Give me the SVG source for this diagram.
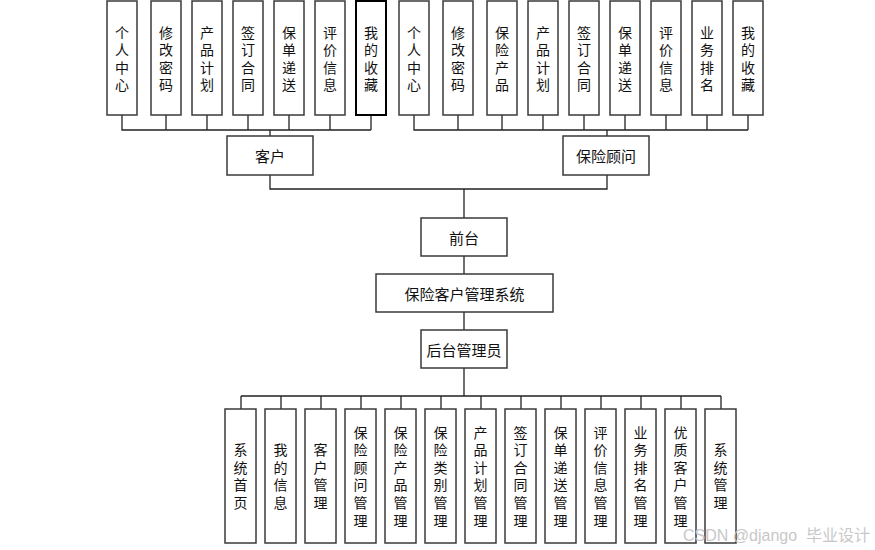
<svg xmlns="http://www.w3.org/2000/svg" width="875" height="550" viewBox="0 0 875 550">
<style>
.bx{fill:#fff;stroke:#3a3a3a;stroke-width:1.5}
.bk{fill:#fff;stroke:#000;stroke-width:2}
.t{font-family:"Noto Sans CJK SC","Liberation Sans",sans-serif;font-size:14px;fill:#111;text-anchor:middle;dominant-baseline:central}
.v{font-family:"Noto Sans CJK SC","Liberation Sans",sans-serif;font-size:14px;fill:#111;writing-mode:vertical-rl;text-anchor:middle;letter-spacing:3.6px}
.h{font-size:15px}
.ln{fill:none;stroke:#222;stroke-width:1.3}
.wm{font-family:"Liberation Sans","Noto Sans CJK SC",sans-serif;font-size:16px;fill:#c8c8c8}
</style>
<rect width="875" height="550" fill="#fff"/>
<g id="connectors" class="ln">
<path d="M122 115V130H371M166 115V130M207 115V130M248 115V130M289 115V130M330 115V130M371 115V130M270 130V136"/>
<path d="M414 115V130H748M458 115V130M502 115V130M543 115V130M584 115V130M625 115V130M666 115V130M707 115V130M748 115V130M607 130V136"/>
<path d="M270 175V189H607V175M464 189V218M464 256V274M464 312V330M464 368V396"/>
<path d="M241 396H721M241 396V409M281 396V409M321 396V409M361 396V409M401 396V409M441 396V409M481 396V409M521 396V409M561 396V409M601 396V409M641 396V409M681 396V409M721 396V409"/>
</g>
<g id="c1"><rect class="bx" x="107" y="1" width="30" height="114"/><text class="v" x="122" y="60.5">个人中心</text></g>
<g id="c2"><rect class="bx" x="151" y="1" width="30" height="114"/><text class="v" x="166" y="60.5">修改密码</text></g>
<g id="c3"><rect class="bx" x="192" y="1" width="30" height="114"/><text class="v" x="207" y="60.5">产品计划</text></g>
<g id="c4"><rect class="bx" x="233" y="1" width="30" height="114"/><text class="v" x="248" y="60.5">签订合同</text></g>
<g id="c5"><rect class="bx" x="274" y="1" width="30" height="114"/><text class="v" x="289" y="60.5">保单递送</text></g>
<g id="c6"><rect class="bx" x="315" y="1" width="30" height="114"/><text class="v" x="330" y="60.5">评价信息</text></g>
<g id="c7"><rect class="bk" x="356" y="1" width="30" height="114"/><text class="v" x="371" y="60.5">我的收藏</text></g>
<g id="a1"><rect class="bx" x="399" y="1" width="30" height="114"/><text class="v" x="414" y="60.5">个人中心</text></g>
<g id="a2"><rect class="bx" x="443" y="1" width="30" height="114"/><text class="v" x="458" y="60.5">修改密码</text></g>
<g id="a3"><rect class="bx" x="487" y="1" width="30" height="114"/><text class="v" x="502" y="60.5">保险产品</text></g>
<g id="a4"><rect class="bx" x="528" y="1" width="30" height="114"/><text class="v" x="543" y="60.5">产品计划</text></g>
<g id="a5"><rect class="bx" x="569" y="1" width="30" height="114"/><text class="v" x="584" y="60.5">签订合同</text></g>
<g id="a6"><rect class="bx" x="610" y="1" width="30" height="114"/><text class="v" x="625" y="60.5">保单递送</text></g>
<g id="a7"><rect class="bx" x="651" y="1" width="30" height="114"/><text class="v" x="666" y="60.5">评价信息</text></g>
<g id="a8"><rect class="bx" x="692" y="1" width="30" height="114"/><text class="v" x="707" y="60.5">业务排名</text></g>
<g id="a9"><rect class="bx" x="733" y="1" width="30" height="114"/><text class="v" x="748" y="60.5">我的收藏</text></g>
<g id="kehu"><rect class="bx" x="227" y="136" width="86" height="39"/><text class="t h" x="270" y="155.5">客户</text></g>
<g id="guwen"><rect class="bx" x="563" y="136" width="86" height="39"/><text class="t h" x="606" y="155.5">保险顾问</text></g>
<g id="qiantai"><rect class="bx" x="421" y="218" width="86" height="38"/><text class="t h" x="464" y="237">前台</text></g>
<g id="system"><rect class="bx" x="376" y="274" width="177" height="38"/><text class="t h" x="464.5" y="293">保险客户管理系统</text></g>
<g id="admin"><rect class="bx" x="421" y="330" width="86" height="38"/><text class="t h" x="464" y="349">后台管理员</text></g>
<g id="b1"><rect class="bx" x="225" y="409" width="31" height="134"/><text class="v" x="240.5" y="478">系统首页</text></g>
<g id="b2"><rect class="bx" x="265" y="409" width="31" height="134"/><text class="v" x="280.5" y="478">我的信息</text></g>
<g id="b3"><rect class="bx" x="305" y="409" width="31" height="134"/><text class="v" x="320.5" y="478">客户管理</text></g>
<g id="b4"><rect class="bx" x="345" y="409" width="31" height="134"/><text class="v" x="360.5" y="478">保险顾问管理</text></g>
<g id="b5"><rect class="bx" x="385" y="409" width="31" height="134"/><text class="v" x="400.5" y="478">保险产品管理</text></g>
<g id="b6"><rect class="bx" x="425" y="409" width="31" height="134"/><text class="v" x="440.5" y="478">保险类别管理</text></g>
<g id="b7"><rect class="bx" x="465" y="409" width="31" height="134"/><text class="v" x="480.5" y="478">产品计划管理</text></g>
<g id="b8"><rect class="bx" x="505" y="409" width="31" height="134"/><text class="v" x="520.5" y="478">签订合同管理</text></g>
<g id="b9"><rect class="bx" x="545" y="409" width="31" height="134"/><text class="v" x="560.5" y="478">保单递送管理</text></g>
<g id="b10"><rect class="bx" x="585" y="409" width="31" height="134"/><text class="v" x="600.5" y="478">评价信息管理</text></g>
<g id="b11"><rect class="bx" x="625" y="409" width="31" height="134"/><text class="v" x="640.5" y="478">业务排名管理</text></g>
<g id="b12"><rect class="bx" x="665" y="409" width="31" height="134"/><text class="v" x="680.5" y="478">优质客户管理</text></g>
<g id="b13"><rect class="bx" x="705" y="409" width="31" height="134"/><text class="v" x="720.5" y="478">系统管理</text></g>
<text class="wm" x="683" y="541" xml:space="preserve">CSDN @django  毕业设计</text>
</svg>
